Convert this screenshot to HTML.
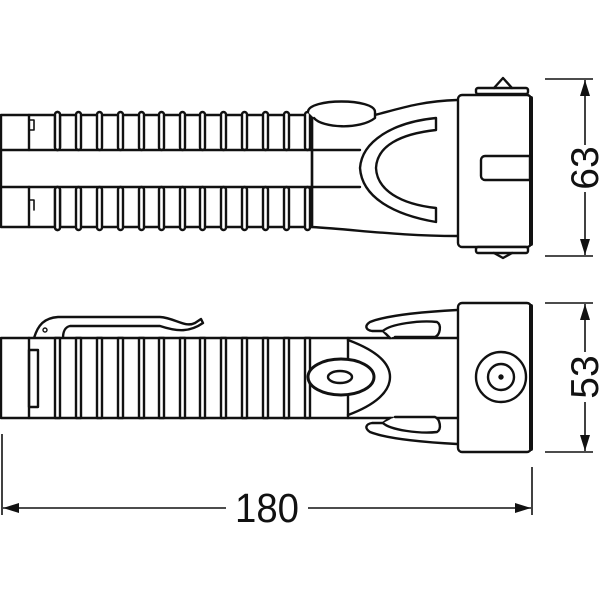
<!DOCTYPE html>
<html><head><meta charset="utf-8"><style>
html,body{margin:0;padding:0;background:#fff;width:600px;height:600px;overflow:hidden}
svg{display:block}
text{font-family:"Liberation Sans",sans-serif;fill:#111}
</style></head><body>
<svg width="600" height="600" viewBox="0 0 600 600" xmlns="http://www.w3.org/2000/svg">
<defs>
<g id="rt">
<rect x="0" y="112" width="5" height="38" rx="2.5" fill="#fff"/>
<rect x="0" y="187" width="5" height="43" rx="2.5" fill="#fff"/>
</g>
<rect id="rb" x="0" y="338" width="5" height="80" fill="#fff"/>
</defs>
<g fill="none" stroke="#111" stroke-width="2.4" stroke-linejoin="round" stroke-linecap="round">
<!-- TOP VIEW -->
<rect x="1" y="115" width="311" height="112" fill="#fff"/>
<line x1="29" y1="115" x2="29" y2="150"/>
<line x1="29" y1="187" x2="29" y2="227"/>
<path d="M29 120 h5 v10 h-5 M29 200 h5 v10" stroke-width="1.6"/>
<use href="#rt" x="55"/><use href="#rt" x="76"/><use href="#rt" x="97"/><use href="#rt" x="118"/>
<use href="#rt" x="139"/><use href="#rt" x="159"/><use href="#rt" x="180"/><use href="#rt" x="200"/>
<use href="#rt" x="221"/><use href="#rt" x="242"/><use href="#rt" x="263"/><use href="#rt" x="284"/>
<use href="#rt" x="305"/>
<line x1="1" y1="150" x2="360" y2="150"/>
<line x1="1" y1="187" x2="360" y2="187"/>
<!-- neck -->
<path d="M312 115 L312 227 M312 227 C360 230 400 236 457 236 M375 115 C395 110 420 101 457 100"/>
<path d="M308 112 C308 98 375 98 375 112 L375 118 C360 130 322 128 314 118" fill="#fff"/>
<!-- Y shape -->
<path d="M436 118 C395 122 362 140 360 168 C362 198 395 215 436 222 L436 208 C400 204 377 190 376 168 C377 146 400 134 436 130 Z" fill="#fff"/>
<!-- head -->
<rect x="458" y="95" width="73" height="152" rx="4" fill="#fff"/>
<line x1="531" y1="98" x2="531" y2="244" stroke-width="4"/>
<path d="M485 156 h45 v24 h-45 a4 4 0 0 1 -4 -4 v-16 a4 4 0 0 1 4 -4 z" fill="#fff"/>
<rect x="476" y="88" width="52" height="6" rx="2" fill="#fff"/>
<path d="M494 88 L503 78 L512 88"/>
<rect x="476" y="247" width="52" height="6" rx="2" fill="#fff"/>
<path d="M494 253 L503 258 L512 253"/>

<!-- BOTTOM VIEW -->
<path d="M34 338 C38 325 44 318 58 317 L160 317 C175 318 185 328 195 323 L201 319 L203 323 C190 332 178 332 160 326 L70 326 C65 327 63 332 63 338"/>
<circle cx="45" cy="330" r="2" stroke-width="1.4"/>
<rect x="1" y="338" width="347" height="80" fill="#fff"/>
<line x1="29" y1="338" x2="29" y2="418"/>
<rect x="29" y="350" width="9" height="57"/>
<use href="#rb" x="55"/><use href="#rb" x="76"/><use href="#rb" x="97"/><use href="#rb" x="118"/>
<use href="#rb" x="139"/><use href="#rb" x="159"/><use href="#rb" x="180"/><use href="#rb" x="200"/>
<use href="#rb" x="221"/><use href="#rb" x="242"/><use href="#rb" x="263"/><use href="#rb" x="284"/>
<use href="#rb" x="305"/>
<path d="M348 338 L457 338 M348 418 L457 418"/>
<path d="M348 340 C375 350 390 362 390 377 C390 392 375 405 348 415"/>
<ellipse cx="341" cy="377" rx="33" ry="18" fill="#fff" stroke-width="3"/>
<ellipse cx="340" cy="377" rx="12" ry="6"/>
<!-- claws -->
<path d="M457 310 C420 312 385 316 370 322 C364 326 366 330 372 331 L383 331 L390 338" fill="#fff"/>
<path d="M383 331 C390 324 420 320 437 322 C442 325 440 335 435 337 L395 337" fill="#fff"/>
<path d="M457 444 C420 442 385 438 370 432 C364 428 366 424 372 423 L383 423 L390 418" fill="#fff"/>
<path d="M383 423 C390 430 420 434 437 432 C442 429 440 419 435 417 L395 417" fill="#fff"/>
<rect x="458" y="303" width="73" height="149" rx="4" fill="#fff"/>
<line x1="531" y1="306" x2="531" y2="449" stroke-width="4"/>
<circle cx="501" cy="377" r="25"/>
<circle cx="501" cy="377" r="13"/>
<circle cx="501" cy="377" r="1.5" fill="#111"/>
</g>
<use href="#rt" x="55" style="stroke:#111;stroke-width:2.4"/>

<!-- DIMENSIONS -->
<g stroke="#111" stroke-width="1.6" fill="none">
<line x1="545" y1="79" x2="593" y2="79"/>
<line x1="545" y1="256" x2="593" y2="256"/>
<line x1="585" y1="80" x2="585" y2="145"/>
<line x1="585" y1="192" x2="585" y2="255"/>
<line x1="545" y1="303" x2="593" y2="303"/>
<line x1="545" y1="452" x2="593" y2="452"/>
<line x1="585" y1="304" x2="585" y2="352"/>
<line x1="585" y1="402" x2="585" y2="451"/>
<line x1="2" y1="434" x2="2" y2="515"/>
<line x1="532" y1="467" x2="532" y2="515"/>
<line x1="3" y1="508" x2="226" y2="508"/>
<line x1="308" y1="508" x2="531" y2="508"/>
</g>
<g fill="#111">
<path d="M585 80 L580 96 L590 96 Z"/>
<path d="M585 255 L580 239 L590 239 Z"/>
<path d="M585 304 L580 320 L590 320 Z"/>
<path d="M585 451 L580 435 L590 435 Z"/>
<path d="M3 508 L19 503 L19 513 Z"/>
<path d="M531 508 L515 503 L515 513 Z"/>
</g>
<text x="267" y="522" font-size="41" text-anchor="middle" textLength="64" lengthAdjust="spacingAndGlyphs">180</text>
<text transform="translate(598 168) rotate(-90)" font-size="39" text-anchor="middle">63</text>
<text transform="translate(598 377) rotate(-90)" font-size="39" text-anchor="middle">53</text>
</svg>
</body></html>
